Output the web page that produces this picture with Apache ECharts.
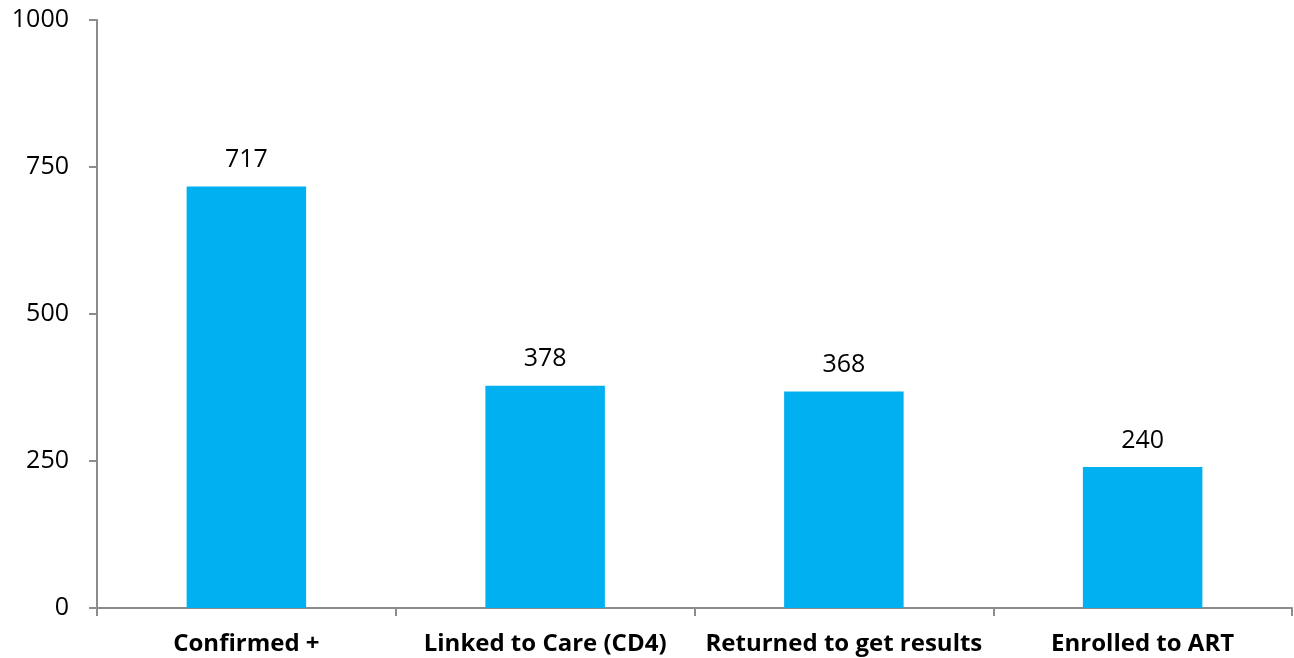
<!DOCTYPE html>
<html>
<head>
<meta charset="utf-8">
<script src="https://cdn.jsdelivr.net/npm/echarts@6/dist/echarts.min.js"></script>
<style>
	html, body { margin: 0; padding: 0; background: #fff; }
	#chart1 { width: 1294px; height: 658px; }
</style>
</head>
<body>
<div id="chart1"></div>
<script>
var categories = ['Confirmed +', 'Linked to Care (CD4)', 'Returned to get results', 'Enrolled to ART'];
var values = [717, 378, 368, 240];
var yTicks = [0, 250, 500, 750, 1000];

function chart1() {
	var myChart = echarts.init(document.getElementById('chart1'));
	var option = {
		animation: false,
		grid: {
			left: 97,
			right: 2,
			top: 20,
			bottom: 50,
			containLabel: false
		},
		xAxis: [{
			type: 'category',
			data: categories,
			axisTick: {
				show: true,
				length: 8,
				lineStyle: { color: '#8c8c8c', width: 2 }
			},
			axisLine: {
				lineStyle: { color: '#8c8c8c', width: 2 }
			},
			axisLabel: {
				interval: 0,
				color: '#000',
				fontSize: 24,
				fontWeight: 'bold',
				fontFamily: 'Open Sans',
				margin: 24
			}
		}],
		yAxis: [{
			type: 'value',
			min: yTicks[0],
			max: yTicks[yTicks.length - 1],
			interval: 250,
			splitLine: { show: false },
			axisLine: {
				show: true,
				lineStyle: { color: '#8c8c8c', width: 2 }
			},
			axisTick: {
				show: true,
				length: 8,
				lineStyle: { color: '#8c8c8c', width: 2 }
			},
			axisLabel: {
				color: '#000',
				fontSize: 25,
				fontFamily: 'Open Sans',
				margin: 28,
				formatter: function(v) { return String(v); }
			}
		}],
		series: [{
			type: 'bar',
			data: values,
			barWidth: '40%',
			itemStyle: { color: '#00b0f0' },
			label: {
				show: true,
				position: 'top',
				distance: 14,
				color: '#000',
				fontSize: 25,
				fontFamily: 'Open Sans'
			}
		}]
	};
	myChart.setOption(option);
}

chart1();
</script>
</body>
</html>
